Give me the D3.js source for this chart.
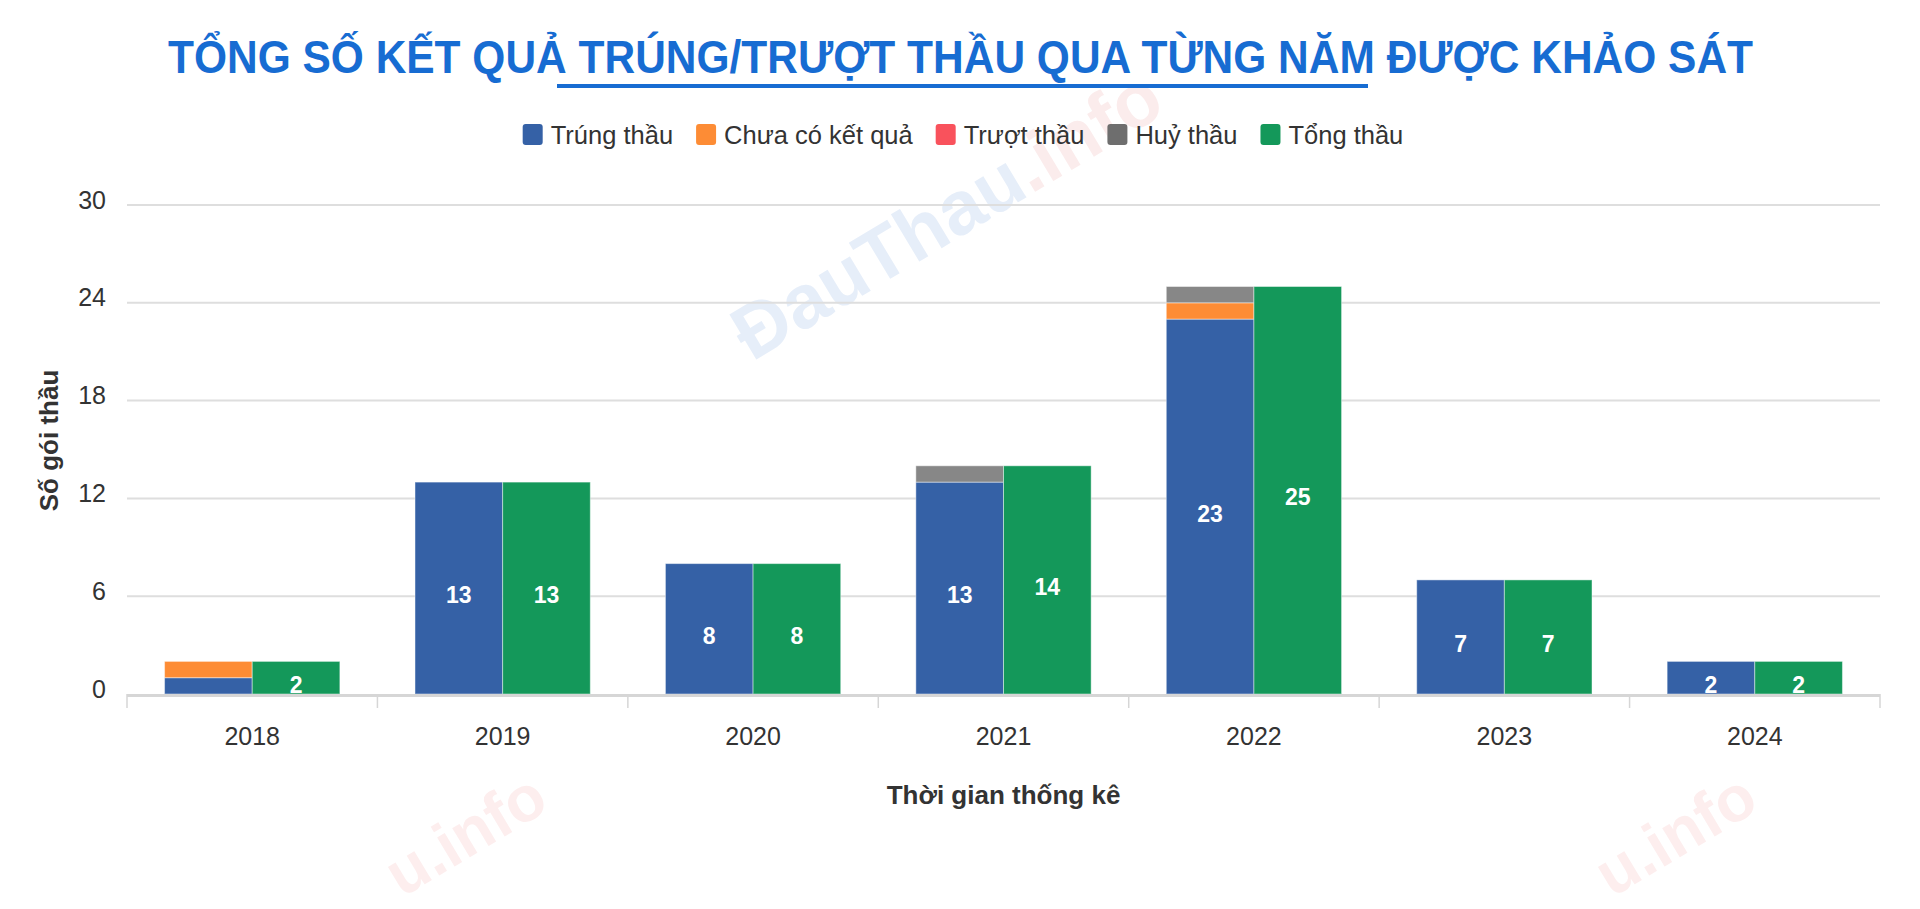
<!DOCTYPE html>
<html>
<head>
<meta charset="utf-8">
<script src="https://cdn.jsdelivr.net/npm/d3@7/dist/d3.min.js"></script>
<style>
  html, body { margin: 0; padding: 0; background: #fff; }
  svg { display: block; }
</style>
</head>
<body>
<svg id="chart" width="1920" height="909"></svg>
<script>
// ---- Data ----
const years = ["2018", "2019", "2020", "2021", "2022", "2023", "2024"];
const trungThau = [1, 13, 8, 13, 23, 7, 2];
const chuaCoKetQua = [1, 0, 0, 0, 1, 0, 0];
const truotThau = [0, 0, 0, 0, 0, 0, 0];
const huyThau = [0, 0, 0, 1, 1, 0, 0];
const tongThau = [2, 13, 8, 14, 25, 7, 2];
const yTicks = [0, 6, 12, 18, 24, 30];
const seriesNames = ["Trúng thầu", "Chưa có kết quả", "Trượt thầu", "Huỷ thầu", "Tổng thầu"];
const titleText = "TỔNG SỐ KẾT QUẢ TRÚNG/TRƯỢT THẦU QUA TỪNG NĂM ĐƯỢC KHẢO SÁT";
const xTitle = "Thời gian thống kê";
const yTitle = "Số gói thầu";

const colors = ["#3561a6", "#fd8c35", "#f9525c", "#878787", "#14985a"];
const legendColors = ["#3561a6", "#fd8c35", "#f9525c", "#6e6e6e", "#14985a"];

const svg = d3.select("#chart");
const plot = { left: 127, right: 1880, top: 205, bottom: 694 };

// ---- Watermarks ----
const wm = svg.append("g").attr("pointer-events", "none");
const wmc = wm.append("text")
  .attr("transform", "translate(752,362) rotate(-31)")
  .attr("font-family", "Liberation Sans, Arial, sans-serif")
  .attr("font-weight", "bold")
  .attr("font-size", 76)
  .attr("fill", "#e6eef9");
wmc.append("tspan").text("ĐauThau");
wmc.append("tspan").attr("fill", "#fbecec").text(".info");
[[402, 898], [1612, 898]].forEach(([x, y]) => {
  wm.append("text")
    .attr("transform", `translate(${x},${y}) rotate(-31)`)
    .attr("font-family", "Liberation Sans, Arial, sans-serif")
    .attr("font-weight", "bold")
    .attr("font-size", 64)
    .attr("fill", "#fdeeee")
    .text("u.info");
});

// ---- Scales ----
const x = d3.scaleBand().domain(years).range([plot.left, plot.right]).paddingInner(0).paddingOuter(0);
const bw = x.bandwidth();
const x1 = d3.scaleBand().domain(["stack", "total"]).range([bw * 0.15, bw * 0.85]).padding(0);
const y = d3.scaleLinear().domain([0, 30]).range([plot.bottom, plot.top]);

// ---- Gridlines ----
svg.append("g").selectAll("line").data(yTicks.filter(d => d > 0)).join("line")
  .attr("x1", plot.left).attr("x2", plot.right)
  .attr("y1", d => y(d)).attr("y2", d => y(d))
  .attr("stroke", "#dedede").attr("stroke-width", 2);

// ---- Y axis labels ----
const yAxis = d3.axisLeft(y).tickValues(yTicks).tickSize(0).tickPadding(0);
const yg = svg.append("g").attr("transform", `translate(${plot.left - 21},3)`).call(yAxis);
yg.select(".domain").remove();
yg.selectAll("text")
  .attr("font-family", "Liberation Sans, Arial, Helvetica, sans-serif")
  .attr("font-size", 25).attr("fill", "#333").attr("dy", null)
  .attr("dominant-baseline", "auto");

// ---- Bars ----
const stackData = years.map((yr, i) => ({
  year: yr,
  vals: [trungThau[i], chuaCoKetQua[i], truotThau[i], huyThau[i]]
}));
const barG = svg.append("g");
stackData.forEach(d => {
  let base = 0;
  d.vals.forEach((v, si) => {
    if (v > 0) {
      barG.append("rect")
        .attr("x", x(d.year) + x1("stack"))
        .attr("width", x1.bandwidth())
        .attr("y", y(base + v))
        .attr("height", y(base) - y(base + v))
        .attr("fill", colors[si])
        .attr("stroke", "rgba(255,255,255,0.45)").attr("stroke-width", 1);
    }
    base += v;
  });
});
barG.selectAll("rect.total").data(years).join("rect").attr("class", "total")
  .attr("x", d => x(d) + x1("total"))
  .attr("width", x1.bandwidth())
  .attr("y", (d, i) => y(tongThau[i]))
  .attr("height", (d, i) => y(0) - y(tongThau[i]))
  .attr("fill", colors[4])
  .attr("stroke", "rgba(255,255,255,0.45)").attr("stroke-width", 1);

// ---- Data labels ----
const lblG = svg.append("g")
  .attr("font-family", "Liberation Sans, Arial, Helvetica, sans-serif")
  .attr("font-weight", "bold").attr("font-size", 23).attr("fill", "#fff")
  .attr("text-anchor", "middle");
years.forEach((yr, i) => {
  if (trungThau[i] >= 2) {
    lblG.append("text")
      .attr("x", x(yr) + x1("stack") + x1.bandwidth() / 2)
      .attr("y", y(trungThau[i] / 2) + 15)
      .text(trungThau[i]);
  }
  lblG.append("text")
    .attr("x", x(yr) + x1("total") + x1.bandwidth() / 2)
    .attr("y", y(tongThau[i] / 2) + 15)
    .text(tongThau[i]);
});

// ---- X axis ----
const xAxis = d3.axisBottom(x).tickSize(0).tickPadding(0);
const xg = svg.append("g").attr("transform", `translate(0,${plot.bottom})`).call(xAxis);
xg.select(".domain").remove();
xg.selectAll("text")
  .attr("font-family", "Liberation Sans, Arial, Helvetica, sans-serif")
  .attr("font-size", 25).attr("fill", "#333")
  .attr("dy", null).attr("y", 51);
svg.append("line")
  .attr("x1", plot.left).attr("x2", plot.right)
  .attr("y1", plot.bottom + 1.5).attr("y2", plot.bottom + 1.5)
  .attr("stroke", "#d6d6d6").attr("stroke-width", 3);
const edges = years.map(d => x(d)).concat([plot.right]);
svg.append("g").selectAll("line").data(edges).join("line")
  .attr("x1", d => d).attr("x2", d => d)
  .attr("y1", plot.bottom).attr("y2", plot.bottom + 14)
  .attr("stroke", "#d6d6d6").attr("stroke-width", 1.5);

// ---- Axis titles ----
svg.append("text")
  .attr("x", (plot.left + plot.right) / 2).attr("y", 804)
  .attr("text-anchor", "middle")
  .attr("font-family", "Liberation Sans, Arial, Helvetica, sans-serif")
  .attr("font-weight", "bold").attr("font-size", 26).attr("fill", "#333")
  .text(xTitle);
svg.append("text")
  .attr("transform", `translate(58,${(plot.top + plot.bottom) / 2 - 9}) rotate(-90)`)
  .attr("text-anchor", "middle")
  .attr("font-family", "Liberation Sans, Arial, Helvetica, sans-serif")
  .attr("font-weight", "bold").attr("font-size", 26).attr("fill", "#333")
  .text(yTitle);

// ---- Title ----
svg.append("text")
  .attr("x", 168).attr("y", 73)
  .attr("textLength", 1585).attr("lengthAdjust", "spacingAndGlyphs")
  .attr("font-family", "Liberation Sans Narrow, Arial Narrow, Liberation Sans, Arial, sans-serif")
  .attr("font-weight", "bold").attr("font-size", 46).attr("fill", "#176cd2")
  .text(titleText);
svg.append("rect")
  .attr("x", 557).attr("y", 84).attr("width", 811).attr("height", 4)
  .attr("fill", "#176cd2");

// ---- Legend ----
const leg = svg.append("g");
let items = [];
seriesNames.forEach((name, i) => {
  const g = leg.append("g");
  g.append("rect").attr("width", 20).attr("height", 21).attr("rx", 3)
    .attr("y", 124).attr("fill", legendColors[i]);
  const t = g.append("text").attr("x", 28).attr("y", 144)
    .attr("font-family", "Liberation Sans, Arial, Helvetica, sans-serif")
    .attr("font-size", 25.5).attr("fill", "#333").text(name);
  items.push({ g, w: 28 + t.node().getComputedTextLength() });
});
const gap = 23;
const total = d3.sum(items, d => d.w) + gap * (items.length - 1);
let cx = 963 - total / 2;
items.forEach(it => { it.g.attr("transform", `translate(${cx},0)`); cx += it.w + gap; });
</script>
</body>
</html>
